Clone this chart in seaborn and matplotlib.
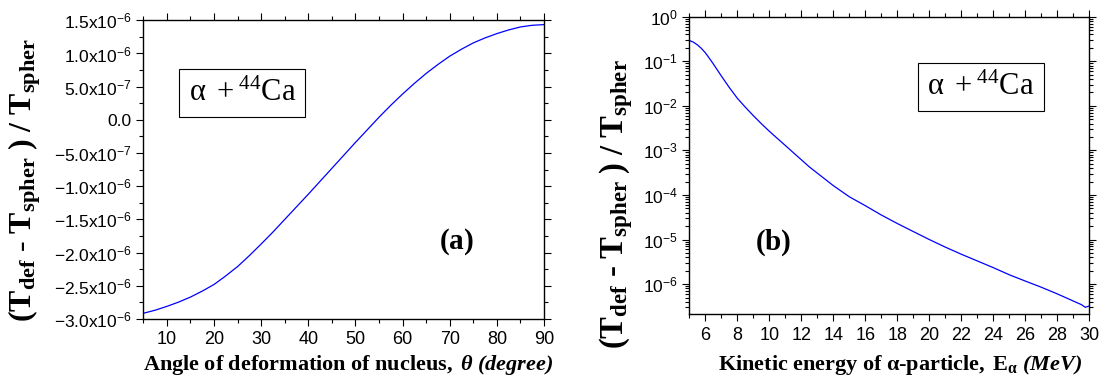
import numpy as np
import pandas as pd
import matplotlib
matplotlib.use("Agg")
import matplotlib.pyplot as plt
import matplotlib.ticker as mticker
import seaborn as sns

# ---- data ----
theta_deg = [5, 7.5, 10, 12.5, 15, 17.5, 20, 22.5, 25, 27.5, 30, 32.5, 35, 37.5, 40,
             42.5, 45, 47.5, 50, 52.5, 55, 57.5, 60, 62.5, 65, 67.5, 70, 72.5, 75,
             77.5, 80, 82.5, 85, 87.5, 90]
ratio_a = [-2.914e-6, -2.868e-6, -2.81e-6, -2.745e-6, -2.67e-6, -2.58e-6, -2.48e-6,
           -2.35e-6, -2.21e-6, -2.045e-6, -1.87e-6, -1.69e-6, -1.50e-6, -1.31e-6,
           -1.12e-6, -0.925e-6, -0.73e-6, -0.535e-6, -0.34e-6, -0.15e-6, 0.04e-6,
           0.22e-6, 0.39e-6, 0.55e-6, 0.70e-6, 0.835e-6, 0.96e-6, 1.065e-6, 1.16e-6,
           1.235e-6, 1.30e-6, 1.355e-6, 1.40e-6, 1.425e-6, 1.435e-6]

energy_mev = [5.0, 5.25, 5.5, 5.75, 6.0, 6.25, 6.5, 7.0, 7.5, 8.0, 8.5, 9.0, 9.5, 10.0,
              10.5, 11.0, 11.5, 12.0, 12.5, 13.0, 14.0, 15.0, 16.0, 17.0, 18.0,
              19.0, 20.0, 21.0, 22.0, 23.0, 24.0, 25.0, 26.0, 27.0, 28.0, 29.0,
              29.5, 29.75, 30.0]
ratio_b = [0.293, 0.269, 0.234, 0.195, 0.155, 0.117, 0.0871, 0.0468, 0.0257, 0.0148,
           0.00933, 0.00603, 0.00398, 0.00269, 0.00186, 0.00129, 8.91e-4, 6.17e-4,
           4.27e-4, 3.09e-4, 1.62e-4, 9.12e-5, 5.75e-5, 3.55e-5, 2.29e-5, 1.51e-5,
           1.00e-5, 6.76e-6, 4.68e-6, 3.31e-6, 2.34e-6, 1.62e-6, 1.17e-6, 8.51e-7,
           6.03e-7, 4.17e-7, 3.47e-7, 3.02e-7, 3.24e-7]

left_yticks = [-3.0e-6, -2.5e-6, -2.0e-6, -1.5e-6, -1.0e-6, -5.0e-7, 0.0,
               5.0e-7, 1.0e-6, 1.5e-6]
left_yticklabels = [r"$\mathdefault{-3.0x10^{-6}}$", r"$\mathdefault{-2.5x10^{-6}}$",
                    r"$\mathdefault{-2.0x10^{-6}}$", r"$\mathdefault{-1.5x10^{-6}}$",
                    r"$\mathdefault{-1.0x10^{-6}}$", r"$\mathdefault{-5.0x10^{-7}}$",
                    "0.0", r"$\mathdefault{5.0x10^{-7}}$", r"$\mathdefault{1.0x10^{-6}}$",
                    r"$\mathdefault{1.5x10^{-6}}$"]
left_xticks = [10, 20, 30, 40, 50, 60, 70, 80, 90]
right_xticks = [6, 8, 10, 12, 14, 16, 18, 20, 22, 24, 26, 28, 30]

df_a = pd.DataFrame({"theta": theta_deg, "ratio": ratio_a})
df_b = pd.DataFrame({"E": energy_mev, "ratio": ratio_b})

sns.set_theme(style="white")
plt.rcParams["font.family"] = ["Liberation Sans", "DejaVu Sans"]
plt.rcParams["mathtext.fontset"] = "custom"
plt.rcParams["mathtext.rm"] = "Liberation Serif"
plt.rcParams["mathtext.it"] = "Liberation Serif:italic"
plt.rcParams["mathtext.bf"] = "Liberation Serif:bold"
try:
    plt.rcParams["mathtext.bfit"] = "Liberation Serif:bold:italic"
except Exception:
    pass
plt.rcParams["axes.edgecolor"] = "black"
plt.rcParams["axes.linewidth"] = 1.0
plt.rcParams["text.color"] = "black"
plt.rcParams["axes.labelcolor"] = "black"
plt.rcParams["xtick.color"] = "black"
plt.rcParams["ytick.color"] = "black"

fig = plt.figure(figsize=(11.04, 3.86), dpi=100)
axA = fig.add_axes([0.1298, 0.1736, 0.3630, 0.7738])
axB = fig.add_axes([0.6244, 0.1857, 0.3623, 0.7710])

line_kw = dict(color="#0000ff", linewidth=0.9)
ylab = r"$\mathbf{(T_{def}\ {\text{-}}\ T_{spher}\ )\ /\ T_{spher}}$"
box_kw = dict(boxstyle="square,pad=0.3", facecolor="white", edgecolor="black", linewidth=0.8)
ca_text = r"$\mathrm{α\ +^{44}Ca}$"

# ---- panel (a) ----
sns.lineplot(data=df_a, x="theta", y="ratio", ax=axA, **line_kw)
axA.set_xlim(5, 90)
axA.set_ylim(-3.0e-6, 1.5e-6)
axA.set_xticks(left_xticks)
axA.xaxis.set_minor_locator(mticker.MultipleLocator(5))
axA.set_yticks(left_yticks)
axA.set_yticklabels(left_yticklabels)
axA.yaxis.set_minor_locator(mticker.MultipleLocator(2.5e-7))
axA.set_xlabel(r"$\mathbf{Angle\ of\ deformation\ of\ nucleus,}\ \mathbfit{\theta\ (degree)}$",
               fontsize=16, va="top")
axA.xaxis.set_label_coords(0.51, -0.115)
axA.set_ylabel(ylab, fontsize=23)
axA.yaxis.set_label_coords(-0.25, 0.465)
axA.text(0.247, 0.757, ca_text, transform=axA.transAxes,
         fontsize=22, ha="center", va="center", bbox=box_kw)
axA.text(0.782, 0.259, r"$\mathbf{(a)}$", transform=axA.transAxes, fontsize=21,
         ha="center", va="center")

# ---- panel (b) ----
sns.lineplot(data=df_b, x="E", y="ratio", ax=axB, **line_kw)
axB.set_yscale("log")
axB.set_xlim(5, 30)
axB.set_ylim(2.1e-7, 1.0)
axB.set_xticks(right_xticks)
axB.xaxis.set_minor_locator(mticker.MultipleLocator(1))
axB.yaxis.set_major_locator(mticker.LogLocator(base=10, numticks=20))
axB.yaxis.set_minor_locator(mticker.LogLocator(base=10, subs=np.arange(2, 10), numticks=20))
axB.yaxis.set_minor_formatter(mticker.NullFormatter())
axB.set_xlabel(r"$\mathbf{Kinetic\ energy\ of\ \alpha{\text{-}}particle,\ E_{\alpha}}\ \mathbfit{(MeV)}$",
               fontsize=16, va="top")
axB.xaxis.set_label_coords(0.527, -0.13)
axB.set_ylabel(ylab, fontsize=23.5)
axB.yaxis.set_label_coords(-0.135, 0.37)
axB.text(0.729, 0.763, ca_text, transform=axB.transAxes,
         fontsize=22, ha="center", va="center", bbox=box_kw)
axB.text(0.209, 0.24, r"$\mathbf{(b)}$", transform=axB.transAxes, fontsize=21,
         ha="center", va="center")

for ax in (axA, axB):
    for s in ax.spines.values():
        s.set_visible(True)
        s.set_color("black")
    ax.tick_params(which="both", direction="out", top=True, right=True,
                   bottom=True, left=True, colors="black", labelsize=12.5)
    ax.tick_params(which="major", length=5, width=0.8)
    ax.tick_params(which="minor", length=3, width=0.8)
    ax.tick_params(axis="x", labelsize=13, pad=4)
    ax.grid(False)

fig.savefig("out.png", dpi=100)
